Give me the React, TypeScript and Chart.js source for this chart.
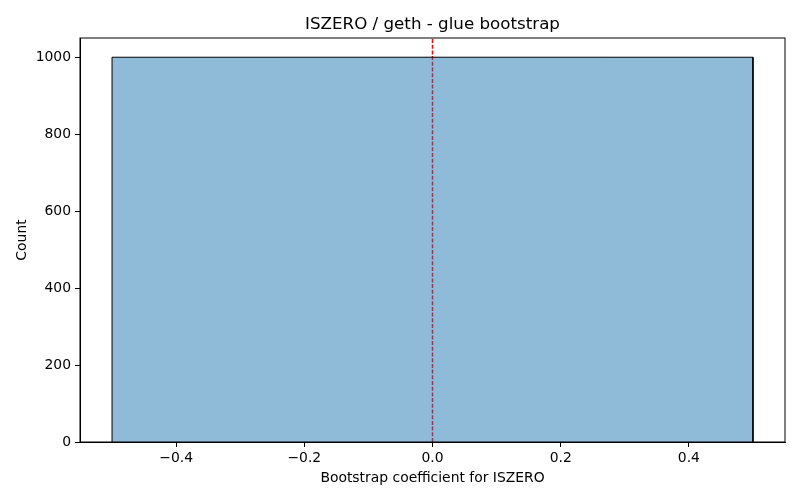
import { useEffect, useRef } from "react"
import { Chart, registerables } from "chart.js"

Chart.register(...registerables)

// histogram bin edges and counts
const binEdges = [-0.5, 0.5]
const binCounts = [1000]
const refLineX = 0
const xTicks = [-0.4, -0.2, 0.0, 0.2, 0.4]
const yTicks = [0, 200, 400, 600, 800, 1000]
const xRange = [-0.55, 0.55]
const yRange = [0, 1050]
const titleText = "ISZERO / geth - glue bootstrap"

const fmt = (v: number, digits: number) =>
    (v < 0 ? "\u2212" : "") + Math.abs(v).toFixed(digits)

// box around the axes and a title centred over them, like matplotlib
const frame = {
    id: "frame",
    afterDatasetsDraw(chart: any) {
        const { ctx, chartArea } = chart
        ctx.save()
        ctx.strokeStyle = "#000"
        ctx.lineWidth = 1
        ctx.strokeRect(chartArea.left, chartArea.top, chartArea.right - chartArea.left, chartArea.bottom - chartArea.top)
        ctx.fillStyle = "#000"
        ctx.font = "16.7px 'DejaVu Sans'"
        ctx.textAlign = "center"
        ctx.textBaseline = "alphabetic"
        ctx.fillText(titleText, (chartArea.left + chartArea.right) / 2, 29)
        ctx.restore()
    }
}

export default function App() {
    const canvasRef = useRef<HTMLCanvasElement>(null)

    useEffect(() => {
        document.body.style.margin = "0"
        const ctx = canvasRef.current
        if (!ctx) return

        // outline of histogram bars
        const barPoints: { x: number, y: number }[] = []
        binCounts.forEach((c, i) => {
            barPoints.push({ x: binEdges[i], y: 0 })
            barPoints.push({ x: binEdges[i], y: c })
            barPoints.push({ x: binEdges[i + 1], y: c })
            barPoints.push({ x: binEdges[i + 1], y: 0 })
        })

        const font = { family: "DejaVu Sans", size: 13.9 }

        const chart = new Chart(ctx, {
            type: "line",
            data: {
                datasets: [
                    {
                        data: barPoints,
                        borderColor: "#000",
                        borderWidth: 1,
                        backgroundColor: "rgba(31,119,180,0.5)",
                        fill: "origin",
                        pointRadius: 0,
                        tension: 0
                    },
                    {
                        data: [{ x: refLineX, y: yRange[0] }, { x: refLineX, y: yRange[1] }],
                        borderColor: "#ff0000",
                        borderWidth: 1.5,
                        borderDash: [4, 1.7],
                        pointRadius: 0,
                        fill: false
                    }
                ]
            },
            options: {
                responsive: false,
                animation: false,
                layout: { padding: { left: 0, right: 15, top: 38, bottom: 0 } },
                plugins: {
                    legend: { display: false },
                    tooltip: { enabled: false },
                    title: { display: false }
                },
                scales: {
                    x: {
                        type: "linear",
                        min: xRange[0],
                        max: xRange[1],
                        afterBuildTicks: (s: any) => { s.ticks = xTicks.map(v => ({ value: v })) },
                        afterFit: (s: any) => { s.height = 58 },
                        ticks: {
                            color: "#000",
                            font,
                            padding: 3,
                            maxRotation: 0,
                            callback: (v: any) => fmt(Number(v), 1)
                        },
                        grid: { display: true, drawOnChartArea: false, drawTicks: true, tickLength: 5, color: "#000" },
                        border: { display: true, color: "#000" },
                        title: {
                            display: true,
                            text: "Bootstrap coefficient for ISZERO",
                            color: "#000",
                            font,
                            padding: { top: 2, bottom: 13 }
                        }
                    },
                    y: {
                        type: "linear",
                        min: yRange[0],
                        max: yRange[1],
                        afterBuildTicks: (s: any) => { s.ticks = yTicks.map(v => ({ value: v })) },
                        afterFit: (s: any) => { s.width = 80 },
                        ticks: {
                            color: "#000",
                            font,
                            padding: 4,
                            callback: (v: any) => String(v)
                        },
                        grid: { display: true, drawOnChartArea: false, drawTicks: true, tickLength: 5, color: "#000" },
                        border: { display: true, color: "#000" },
                        title: {
                            display: true,
                            text: "Count",
                            color: "#000",
                            font,
                            padding: { top: 14, bottom: 4 }
                        }
                    }
                }
            },
            plugins: [frame]
        })

        return () => {
            chart.destroy()
        }
    }, [])

    return <canvas ref={canvasRef} width={800} height={500}></canvas>
}
